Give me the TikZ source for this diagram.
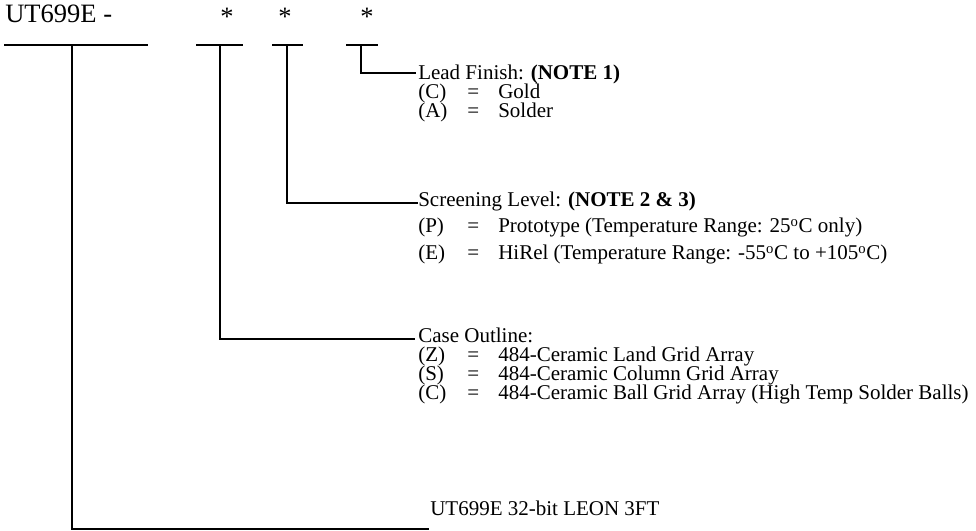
\documentclass[tikz,border=0pt]{standalone}
\usepackage{fontspec}
\setmainfont{Liberation Serif}
\newcommand\optrow[5]{%
  \node[txt] (#1l) at (418,#2) {#3};
  \node[txt] (#1e) at (467,#2) {=};
  \node[txt] (#1v) at (498,#2) {#4#5};}
\begin{document}
\begin{tikzpicture}[x=0.75pt,y=-0.75pt,
  txt/.style={anchor=base west, inner sep=0pt, font=\fontsize{15.75}{18}\selectfont},
  ttl/.style={anchor=base west, inner sep=0pt, font=\fontsize{19.9}{22}\selectfont},
  star/.style={anchor=base, inner sep=0pt, font=\fontsize{19.9}{22}\selectfont},
  ln/.style={line width=1.5pt, line cap=rect}]
\useasboundingbox (0,0) rectangle (976,531);
% title and place holders
\node[ttl] (title) at (5,23) {UT699E -};
\node[star] (s1) at (227,26) {*};
\node[star] (s2) at (285,26) {*};
\node[star] (s3) at (367,26) {*};
% underline segments
\coordinate (a1) at (5,45);   \coordinate (a2) at (147,45);
\coordinate (b1) at (197,45); \coordinate (b2) at (242,45);
\coordinate (c1) at (273,45); \coordinate (c2) at (302,45);
\coordinate (d1) at (347,45); \coordinate (d2) at (377,45);
\draw[ln] (a1) -- (a2);
\draw[ln] (b1) -- (b2);
\draw[ln] (c1) -- (c2);
\draw[ln] (d1) -- (d2);
\coordinate (ta) at (72,45);
\coordinate (tb) at (220,45);
\coordinate (tc) at (287,45);
\coordinate (td) at (361,45);
% lead finish
\node[txt] (lead) at (418,80) {Lead Finish: \textbf{(NOTE 1)}};
\optrow{lc}{99}{(C)}{Gold}{}
\optrow{la}{118}{(A)}{Solder}{}
% screening
\node[txt] (scr) at (418,207) {Screening Level: \textbf{(NOTE 2 \& 3)}};
\optrow{sp}{233}{(P)}{Prototype (Temperature Range: 25\textsuperscript{o}C only)}{}
\optrow{se}{260}{(E)}{HiRel (Temperature Range: -55\textsuperscript{o}C to +105\textsuperscript{o}C)}{}
% case outline
\node[txt] (case) at (418,343) {Case Outline:};
\optrow{cz}{362}{(Z)}{484-Ceramic Land Grid Array}{}
\optrow{cs}{381}{(S)}{484-Ceramic Column Grid Array}{}
\optrow{cc}{400}{(C)}{484-Ceramic Ball Grid Array (High Temp Solder Balls)}{}
% device
\node[txt] (dev) at (430,515) {UT699E 32-bit LEON 3FT};
% connectors
\coordinate (ed) at (415,73);
\coordinate (ec) at (417,203);
\coordinate (eb) at (414,339);
\coordinate (ea) at (428,529);
\draw[ln] (td) |- (ed);
\draw[ln] (tc) |- (ec);
\draw[ln] (tb) |- (eb);
\draw[ln] (ta) |- (ea);
\end{tikzpicture}
\end{document}
